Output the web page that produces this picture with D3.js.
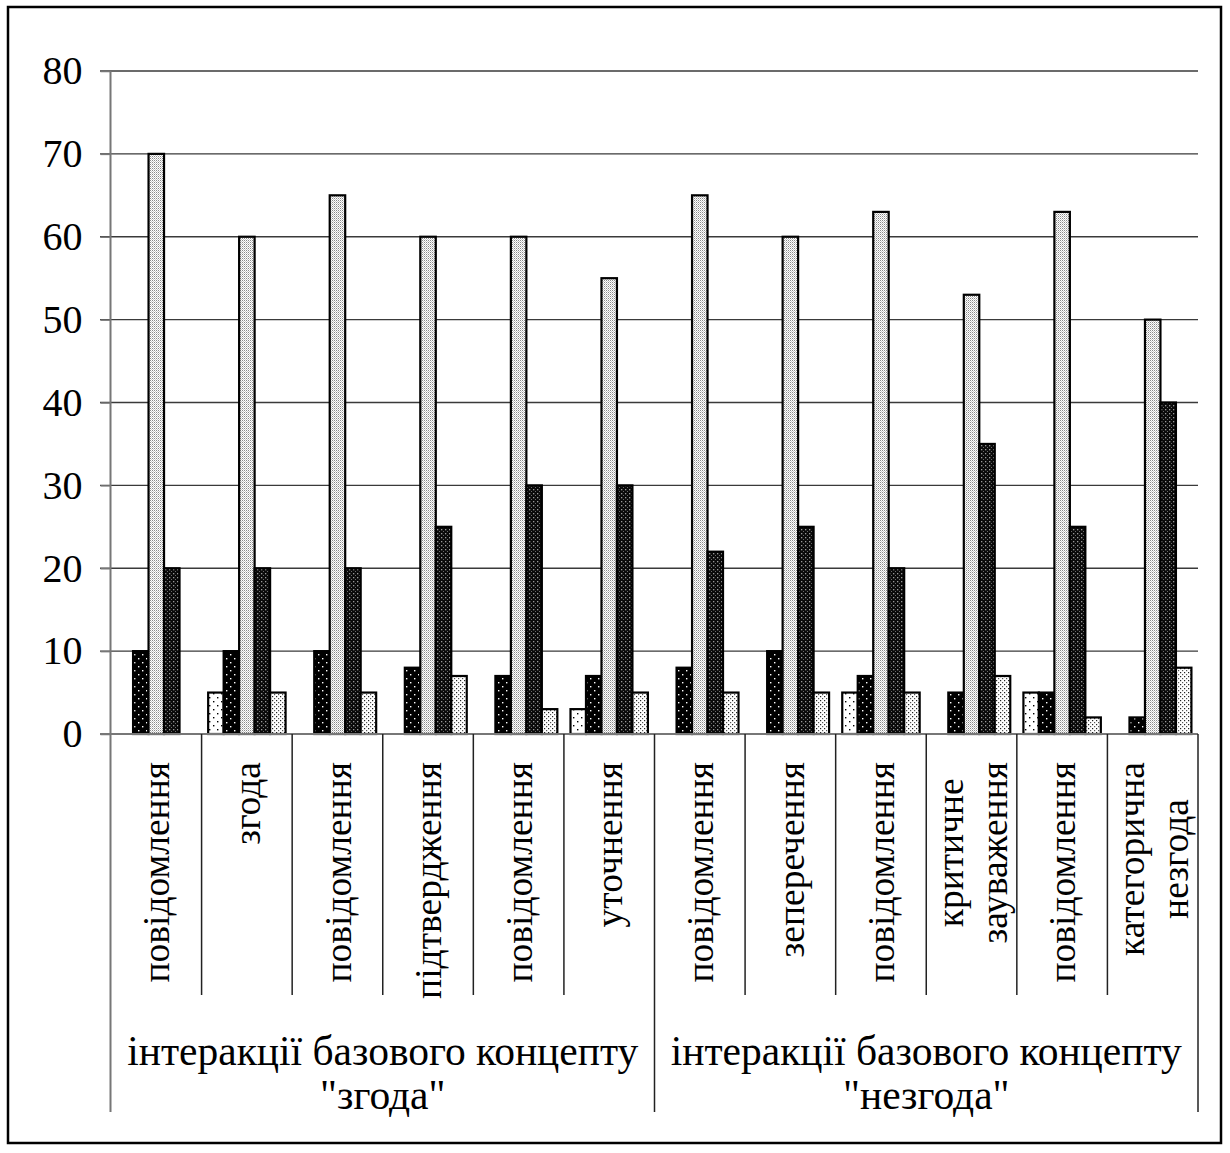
<!DOCTYPE html>
<html>
<head>
<meta charset="utf-8">
<script src="https://cdn.jsdelivr.net/npm/d3@7"></script>
<style>
  html, body { margin: 0; padding: 0; background: #fff; }
  svg { display: block; }
  text { font-family: "Liberation Serif", "Times New Roman", serif; fill: #000; }
</style>
</head>
<body>
<svg id="chart" width="1230" height="1153"></svg>
<script>
// Category labels (lines of each label), group labels, series and tick values
const categories = [
  ["повідомлення"], ["згода"], ["повідомлення"], ["підтвердження"],
  ["повідомлення"], ["уточнення"], ["повідомлення"], ["зеперечення"],
  ["повідомлення"], ["критичне", "зауваження"], ["повідомлення"], ["категорична", "незгода"]
];
const groups = [
  { label: ["інтеракції базового концепту", "\"згода\""], from: 0, to: 6 },
  { label: ["інтеракції базового концепту", "\"незгода\""], from: 6, to: 12 }
];
const series1 = [0, 5, 0, 0, 0, 3, 0, 0, 5, 0, 5, 0];
const series2 = [10, 10, 10, 8, 7, 7, 8, 10, 7, 5, 5, 2];
const series3 = [70, 60, 65, 60, 60, 55, 65, 60, 63, 53, 63, 50];
const series4 = [20, 20, 20, 25, 30, 30, 22, 25, 20, 35, 25, 40];
const series5 = [0, 5, 5, 7, 3, 5, 5, 5, 5, 7, 2, 8];
const seriesList = [series1, series2, series3, series4, series5];
const yTicks = [0, 10, 20, 30, 40, 50, 60, 70, 80];

const svg = d3.select("#chart");
const FAMILY = "'Liberation Serif', 'Times New Roman', serif";
const TICK_FONT = 40;
const CAT_FONT = 37.5;
const GROUP_FONT = 41.5;

// Fill patterns for the five series
const defs = svg.append("defs");
function pattern(id, size, bg, dots) {
  const p = defs.append("pattern").attr("id", id)
    .attr("patternUnits", "userSpaceOnUse").attr("width", size).attr("height", size);
  p.append("rect").attr("width", size).attr("height", size).attr("fill", bg);
  dots.forEach(d => p.append("rect").attr("x", d[0]).attr("y", d[1])
    .attr("width", d[2]).attr("height", d[2]).attr("fill", d[3]));
}
pattern("p1", 8, "#fff", [[1, 1, 1.4, "#000"], [5, 5, 1.4, "#000"]]);
pattern("p2", 8, "#000", [[2, 2, 1.4, "#fff"], [6, 6, 1.4, "#fff"]]);
pattern("p3", 2, "#fff", [[0, 0, 1, "#8a8a8a"], [1, 1, 1, "#c8c8c8"]]);
pattern("p4", 4, "#0a0a0a", [[1, 1, 1.3, "#9a9a9a"], [3, 3, 1.3, "#6a6a6a"]]);
pattern("p5", 4, "#fff", [[0, 0, 1.2, "#222"], [2, 2, 1.2, "#555"]]);
const fills = ["url(#p1)", "url(#p2)", "url(#p3)", "url(#p4)", "url(#p5)"];

// Outer frame
svg.append("rect").attr("x", 8).attr("y", 7).attr("width", 1213).attr("height", 1136)
  .attr("fill", "none").attr("stroke", "#000").attr("stroke-width", 2.5);

// Scales
const x = d3.scaleBand().domain(d3.range(categories.length)).range([111, 1198])
  .paddingInner(0).paddingOuter(0);
const xs = d3.scaleBand().domain(d3.range(seriesList.length)).range([0, x.bandwidth()])
  .paddingInner(0).paddingOuter(0.425);
const y = d3.scaleLinear().domain([0, 80]).range([734, 71]);

const catBottom = 995;
const groupBottom = 1112;

// Horizontal gridlines
svg.append("g").selectAll("line").data(yTicks.filter(v => v > 0)).join("line")
  .attr("x1", 100).attr("x2", x.range()[1])
  .attr("y1", d => y(d)).attr("y2", d => y(d))
  .attr("stroke", "#3a3a3a").attr("stroke-width", 1.3);

// Y axis with labels
const yAxis = svg.append("g").attr("transform", "translate(110.5,0)")
  .call(d3.axisLeft(y).tickValues(yTicks).tickSize(10).tickPadding(18).tickFormat(d3.format("d")));
yAxis.attr("font-family", FAMILY);
yAxis.select(".domain").remove();
yAxis.selectAll(".tick line").attr("stroke", "#777").attr("stroke-width", 1.5);
yAxis.selectAll(".tick text").attr("font-size", TICK_FONT)
  .attr("font-family", FAMILY).attr("fill", "#000");

// Bars
const barG = svg.append("g");
seriesList.forEach((vals, s) => {
  barG.append("g").selectAll("rect").data(vals.map((v, i) => ({ v, i })).filter(d => d.v > 0))
    .join("rect")
    .attr("x", d => x(d.i) + xs(s))
    .attr("y", d => y(d.v))
    .attr("width", xs.bandwidth())
    .attr("height", d => y(0) - y(d.v))
    .attr("fill", fills[s])
    .attr("stroke", "#000").attr("stroke-width", 2.2);
});

// Vertical axis line running down through the label area
svg.append("line").attr("x1", 110.5).attr("x2", 110.5).attr("y1", y(80)).attr("y2", groupBottom)
  .attr("stroke", "#777").attr("stroke-width", 2);
// Category axis line
svg.append("line").attr("x1", 100).attr("x2", x.range()[1]).attr("y1", y(0)).attr("y2", y(0))
  .attr("stroke", "#777").attr("stroke-width", 2);

// Category separators and group separators
const bounds = d3.range(1, categories.length + 1);
svg.append("g").selectAll("line").data(bounds).join("line")
  .attr("x1", i => i < categories.length ? x(i) : x.range()[1])
  .attr("x2", i => i < categories.length ? x(i) : x.range()[1])
  .attr("y1", y(0))
  .attr("y2", i => groups.some(g => g.to === i) ? groupBottom : catBottom)
  .attr("stroke", "#222").attr("stroke-width", 1.5);

// Rotated category labels; lines of one label are centred on each other
const labelTop = 762;
const lineGap = 44;
categories.forEach((lines, i) => {
  const cx = x(i) + x.bandwidth() / 2;
  const g = svg.append("g").attr("transform", `translate(${cx},${labelTop}) rotate(-90)`);
  const texts = lines.map((t, k) => g.append("text")
    .attr("font-size", CAT_FONT).attr("font-family", FAMILY).attr("text-anchor", "middle")
    .attr("y", (k - (lines.length - 1) / 2) * lineGap)
    .attr("dy", "0.35em").text(t));
  const maxLen = d3.max(texts, t => t.node().getComputedTextLength());
  texts.forEach(t => t.attr("x", -maxLen / 2));
});

// Group labels
groups.forEach(gr => {
  const cx = (x(gr.from) + (gr.to < categories.length ? x(gr.to) : x.range()[1])) / 2;
  gr.label.forEach((t, k) => {
    svg.append("text").attr("x", cx).attr("y", 1050 + k * 44)
      .attr("dy", "0.35em").attr("text-anchor", "middle")
      .attr("font-size", GROUP_FONT).attr("font-family", FAMILY).text(t);
  });
});
</script>
</body>
</html>
